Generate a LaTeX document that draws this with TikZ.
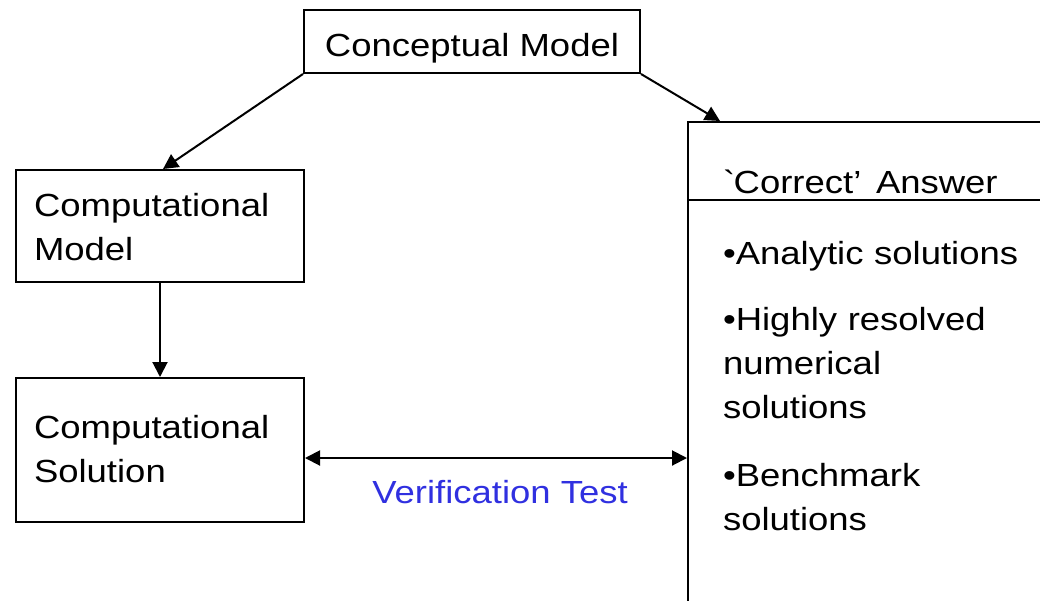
\documentclass[tikz,border=0pt]{standalone}
\usepackage{fontspec}
\setmainfont{Liberation Sans}[FakeStretch=1.14]
\usetikzlibrary{arrows.meta,calc}
\definecolor{verifblue}{RGB}{48,48,224}
\begin{document}
\begin{tikzpicture}[x=1pt,y=-1pt,
  font=\fontsize{32}{44}\selectfont,
  box/.style={draw,line width=2pt,rectangle,inner sep=0pt,anchor=north west},
  conn/.style={line width=2pt,-{Triangle[length=15pt,width=15pt]}},
  both/.style={line width=2pt,{Triangle[length=15pt,width=15pt]}-{Triangle[length=15pt,width=15pt]}}]
\useasboundingbox (0,0) rectangle (1040,600);
\clip (0,0) rectangle (1040,600);
% boxes
\node[box,minimum width=336pt,text height=46pt,text depth=17pt,align=center] (cm) at (303,9) {Conceptual Model};
\node[box,inner xsep=18pt,text width=252pt,text height=46pt,text depth=66pt,align=left] (cmod) at (15,169) {Computational\\Model};
\node[box,inner xsep=18pt,text width=252pt,text height=60pt,text depth=84pt,align=left] (csol) at (15,377) {Computational\\Solution};
\node[box,inner xsep=35pt,text width=350pt,text height=71pt,text depth=7pt,align=left] (anshead) at (687,121) {\textasciigrave Correct’\hspace{4pt} Answer};
\node[box,inner xsep=35pt,text width=350pt,text height=64pt,text depth=420pt,align=left] (ansbody) at (687,199) {•Analytic solutions\\[22pt]•Highly resolved\\numerical\\solutions\\[24pt]•Benchmark\\solutions};
\node[anchor=base,text=verifblue] (vt) at (500,503) {Verification Test};
% connectors
\coordinate (vl) at ($(csol.east)+(0,8)$);
\coordinate (vr) at (ansbody.west |- vl);
\draw[conn] (cm.south west) -- ($(cmod.north)+(3,0)$);
\draw[conn] (cm.south east) -- ($(anshead.north west)+(33,0)$);
\draw[conn] (cmod.south) -- (csol.north);
\draw[both] (vl) -- (vr);
\end{tikzpicture}
\end{document}
